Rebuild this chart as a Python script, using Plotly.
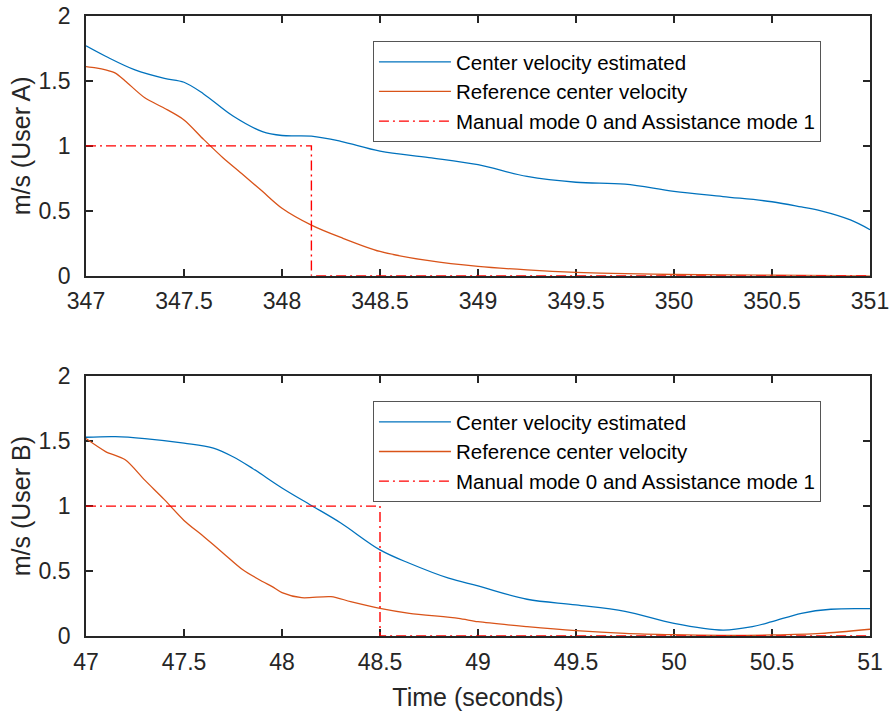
import plotly.graph_objects as go
from plotly.subplots import make_subplots

# ---------------- data ----------------
names = ["Center velocity estimated", "Reference center velocity",
         "Manual mode 0 and Assistance mode 1"]

# User A
blue_A_t = [347, 347.1, 347.25, 347.4, 347.5, 347.6, 347.75, 347.9, 348, 348.15, 348.3,
            348.5, 348.75, 349, 349.25, 349.5, 349.75, 350, 350.25, 350.5, 350.65,
            350.75, 350.9, 351]
blue_A = [1.77, 1.69, 1.585, 1.52, 1.49, 1.40, 1.23, 1.11, 1.08, 1.075, 1.035,
          0.96, 0.91, 0.855, 0.765, 0.72, 0.705, 0.65, 0.61, 0.57, 0.53,
          0.50, 0.43, 0.355]
orange_A_t = [347, 347.05, 347.1, 347.15, 347.2, 347.3, 347.4, 347.5, 347.6, 347.7, 347.8,
              347.9, 348, 348.15, 348.3, 348.5, 348.75, 349, 349.25, 349.5, 349.75,
              350, 350.5, 351]
orange_A = [1.61, 1.60, 1.585, 1.56, 1.50, 1.37, 1.29, 1.20, 1.05, 0.907, 0.78,
            0.65, 0.52, 0.39, 0.295, 0.187, 0.116, 0.072, 0.045, 0.026, 0.016,
            0.01, 0.004, 0.0]
mode_A_t = [347, 348.15, 348.15, 351]
mode_A = [1, 1, 0, 0]

# User B
blue_B_t = [47, 47.15, 47.3, 47.5, 47.65, 47.75, 47.85, 48, 48.15, 48.3, 48.5, 48.65,
            48.85, 49, 49.25, 49.5, 49.75, 50, 50.25, 50.4, 50.5, 50.65, 50.8, 51]
blue_B = [1.53, 1.535, 1.52, 1.485, 1.447, 1.38, 1.29, 1.14, 1.005, 0.87, 0.663, 0.56,
          0.445, 0.385, 0.283, 0.24, 0.19, 0.098, 0.046, 0.072, 0.11, 0.175, 0.206, 0.21]
orange_B_t = [47, 47.1, 47.2, 47.3, 47.4, 47.5, 47.6, 47.7, 47.8, 47.9, 47.95, 48, 48.1,
              48.25, 48.35, 48.5, 48.65, 48.9, 49, 49.25, 49.5, 49.75, 50, 50.25, 50.5,
              50.75, 51]
orange_B = [1.52, 1.42, 1.357, 1.20, 1.05, 0.89, 0.766, 0.638, 0.51, 0.42, 0.38, 0.334,
            0.295, 0.303, 0.265, 0.213, 0.175, 0.136, 0.11, 0.072, 0.041, 0.02, 0.01,
            0.005, 0.008, 0.02, 0.052]
mode_B_t = [47, 48.5, 48.5, 51]
mode_B = [1, 1, 0, 0]

xticks_A = [347, 347.5, 348, 348.5, 349, 349.5, 350, 350.5, 351]
xticks_B = [47, 47.5, 48, 48.5, 49, 49.5, 50, 50.5, 51]
yticks = [0, 0.5, 1, 1.5, 2]

# ---------------- figure ----------------
BLUE = "#0072BD"
ORANGE = "#D95319"
RED = "#FF0000"
AX = "#262626"
FONT = "Liberation Sans, Arial, sans-serif"

fig = make_subplots(rows=2, cols=1, vertical_spacing=0.162)

for row, (bt, bv, ot, ov, mt, mv, leg) in enumerate([
        (blue_A_t, blue_A, orange_A_t, orange_A, mode_A_t, mode_A, "legend"),
        (blue_B_t, blue_B, orange_B_t, orange_B, mode_B_t, mode_B, "legend2")], start=1):
    fig.add_trace(go.Scatter(x=bt, y=bv, mode="lines", name=names[0], legend=leg,
                             line=dict(color=BLUE, width=1.3, shape="spline", smoothing=1.0)),
                  row=row, col=1)
    fig.add_trace(go.Scatter(x=ot, y=ov, mode="lines", name=names[1], legend=leg,
                             line=dict(color=ORANGE, width=1.3, shape="spline", smoothing=0.8)),
                  row=row, col=1)
    fig.add_trace(go.Scatter(x=mt, y=mv, mode="lines", name=names[2], legend=leg,
                             line=dict(color=RED, width=1.4, dash="10px,4px,2px,4px")),
                  row=row, col=1)

axis_common = dict(showline=True, linecolor=AX, linewidth=1.8, mirror="allticks",
                   ticks="inside", ticklen=7, tickwidth=1.5, tickcolor=AX,
                   showgrid=False, zeroline=False, automargin=False, layer="below traces",
                   ticklabeloverflow="allow",
                   tickfont=dict(family=FONT, size=23, color=AX))

fig.update_xaxes(axis_common)
fig.update_yaxes(axis_common)

fig.update_xaxes(range=[347, 351], tickvals=xticks_A, ticktext=[f"{v:g}" for v in xticks_A],
                 ticklabelstandoff=4, row=1, col=1)
fig.update_xaxes(range=[47, 51], tickvals=xticks_B, ticktext=[f"{v:g}" for v in xticks_B],
                 ticklabelstandoff=4,
                 title=dict(text="Time (seconds)", font=dict(family=FONT, size=25, color=AX),
                            standoff=15),
                 row=2, col=1)
fig.update_yaxes(range=[0, 2], tickvals=yticks, ticktext=[f"{v:g}" for v in yticks],
                 ticklabelstandoff=9,
                 title=dict(text="m/s (User A)", font=dict(family=FONT, size=25, color=AX),
                            standoff=1),
                 row=1, col=1)
fig.update_yaxes(range=[0, 2], tickvals=yticks, ticktext=[f"{v:g}" for v in yticks],
                 ticklabelstandoff=9,
                 title=dict(text="m/s (User B)", font=dict(family=FONT, size=25, color=AX),
                            standoff=1),
                 row=2, col=1)

legend_style = dict(bgcolor="white", bordercolor="#555555", borderwidth=1,
                    font=dict(family=FONT, size=20.5, color="black"),
                    itemwidth=72, xanchor="left", yanchor="top", x=0.366,
                    tracegroupgap=0)

fig.update_layout(
    width=891, height=718,
    margin=dict(l=86, r=21, t=16, b=82),
    paper_bgcolor="white", plot_bgcolor="white",
    font=dict(family=FONT, color=AX),
    legend=dict(legend_style, y=0.9597),
    legend2=dict(legend_style, y=0.379),
)

# remove the default 8px page margin so the figure fills the 891x718 window exactly
fig.write_html("out.html",
               config={"displayModeBar": False},
               post_script="document.body.style.margin='0';document.body.style.overflow='hidden';")
